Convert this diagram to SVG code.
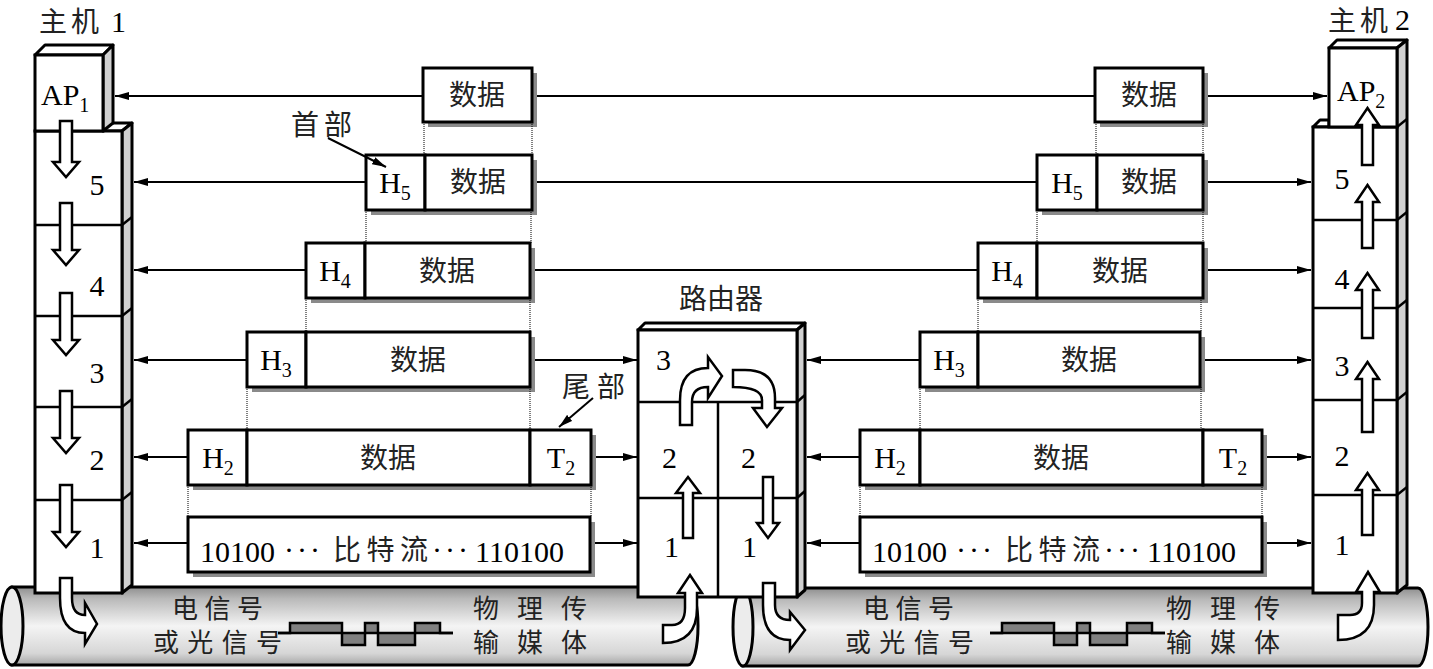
<svg xmlns="http://www.w3.org/2000/svg" width="1433" height="669" viewBox="0 0 1433 669">
<defs>
<linearGradient id="cg" x1="0" y1="0" x2="0" y2="1">
<stop offset="0" stop-color="#8f8f8f"/>
<stop offset="0.15" stop-color="#b9b9b9"/>
<stop offset="0.5" stop-color="#f4f4f4"/>
<stop offset="0.85" stop-color="#d6d6d6"/>
<stop offset="1" stop-color="#a6a6a6"/>
</linearGradient>
<marker id="ah" viewBox="0 0 14 8" refX="14" refY="4" markerWidth="14" markerHeight="8" markerUnits="userSpaceOnUse" orient="auto"><path d="M0,0 L14,4 L0,8 z" fill="#000"/></marker>
<style>
.box{fill:#fff;stroke:#000;stroke-width:3}
.sh{fill:#8a8a8a}
.side{fill:#d0d0d0;stroke:#000;stroke-width:3;stroke-linejoin:round}
.top{fill:#fff;stroke:#000;stroke-width:3;stroke-linejoin:round}
.dv{stroke:#000;stroke-width:2.5}
.ha{fill:#fff;stroke:#000;stroke-width:2.5;stroke-linejoin:miter}
.cn{stroke:#000;stroke-width:2;fill:none;marker-end:url(#ah)}
.ln{stroke:#000;stroke-width:2;fill:none}
.th{stroke:#000;stroke-width:1;stroke-dasharray:1 1;fill:none}
.cab{fill:url(#cg);stroke:#000;stroke-width:3}
.cap{fill:#ececec;stroke:#000;stroke-width:3}
.wv{fill:none;stroke:#000;stroke-width:2.5}
.wf{fill:#808080}
.lat{font-family:"Liberation Serif","Times New Roman",serif;font-size:30px;fill:#000}
.cjk{font-family:"Noto Sans CJK SC","Noto Sans CJK JP",sans-serif;font-size:28px;fill:#222}
.cb{font-size:26px}
.mid{text-anchor:middle}
</style>
</defs>

<!-- cables -->
<g id="cable1">
<path class="cab" d="M12,587 L688,587 A10,39 0 0 1 688,665 L12,665 Z"/>
<ellipse class="cap" cx="12" cy="626" rx="11" ry="39"/>
<text class="cjk cb" x="172" y="618" textLength="91">电信号</text>
<text class="cjk cb" x="153" y="652" textLength="129">或光信号</text>
<rect class="wf" x="290" y="623" width="52" height="10"/>
<rect class="wf" x="342" y="633" width="23" height="12"/>
<rect class="wf" x="365" y="623" width="13" height="10"/>
<rect class="wf" x="378" y="633" width="37" height="12"/>
<rect class="wf" x="415" y="623" width="25" height="10"/>
<path class="wv" d="M278,633 L290,633 L290,623 L342,623 L342,645 L365,645 L365,623 L378,623 L378,645 L415,645 L415,623 L440,623 L440,633 L453,633"/>
<line class="wv" x1="278" y1="633" x2="453" y2="633"/>
<text class="cjk cb" x="473" y="618" textLength="114">物 理 传</text>
<text class="cjk cb" x="473" y="652" textLength="114">输 媒 体</text>
</g>
<g id="cable2">
<path class="cab" d="M743,588 L1418,588 A10,39 0 0 1 1418,666 L743,666 Z"/>
<ellipse class="cap" cx="743" cy="627" rx="10" ry="39"/>
<text class="cjk cb" x="863" y="618" textLength="91">电信号</text>
<text class="cjk cb" x="845" y="652" textLength="129">或光信号</text>
<g transform="translate(712,0)">
<rect class="wf" x="290" y="623" width="52" height="10"/>
<rect class="wf" x="342" y="633" width="23" height="12"/>
<rect class="wf" x="365" y="623" width="13" height="10"/>
<rect class="wf" x="378" y="633" width="37" height="12"/>
<rect class="wf" x="415" y="623" width="25" height="10"/>
<path class="wv" d="M278,633 L290,633 L290,623 L342,623 L342,645 L365,645 L365,623 L378,623 L378,645 L415,645 L415,623 L440,623 L440,633 L453,633"/>
<line class="wv" x1="278" y1="633" x2="453" y2="633"/>
</g>
<text class="cjk cb" x="1166" y="618" textLength="114">物 理 传</text>
<text class="cjk cb" x="1166" y="652" textLength="114">输 媒 体</text>
</g>

<!-- host 1 -->
<g id="host1">
<text class="cjk" x="39" y="32" textLength="60">主机</text>
<text class="lat" x="111" y="32">1</text>
<polygon class="top" points="103,131 110,123 132,123 122,131"/>
<polygon class="side" points="122,131 132,123 132,585 122,593"/>
<rect class="box" x="35" y="131" width="87" height="462"/>
<line class="dv" x1="35" y1="225" x2="122" y2="225"/><line class="dv" x1="122" y1="225" x2="132" y2="217"/>
<line class="dv" x1="35" y1="316" x2="122" y2="316"/><line class="dv" x1="122" y1="316" x2="132" y2="308"/>
<line class="dv" x1="35" y1="407" x2="122" y2="407"/><line class="dv" x1="122" y1="407" x2="132" y2="399"/>
<line class="dv" x1="35" y1="500" x2="122" y2="500"/><line class="dv" x1="122" y1="500" x2="132" y2="492"/>
<polygon class="top" points="35,55 45,45 113,45 103,55"/>
<polygon class="side" points="103,55 113,45 113,123 103,131"/>
<rect class="box" x="35" y="55" width="68" height="76"/>
<text class="lat" x="41" y="105">AP<tspan font-size="20" dy="7">1</tspan></text>
<text class="lat mid" x="97" y="195">5</text>
<text class="lat mid" x="97" y="296">4</text>
<text class="lat mid" x="97" y="383">3</text>
<text class="lat mid" x="97" y="470">2</text>
<text class="lat mid" x="97" y="558">1</text>
<polygon class="ha" points="60,121 72,121 72,162 79,162 66,177 53,162 60,162"/>
<polygon class="ha" points="60,203 72,203 72,250 79,250 66,265 53,250 60,250"/>
<polygon class="ha" points="60,293 72,293 72,340 79,340 66,355 53,340 60,340"/>
<polygon class="ha" points="60,391 72,391 72,438 79,438 66,453 53,438 60,438"/>
<polygon class="ha" points="60,485 72,485 72,532 79,532 66,547 53,532 60,532"/>
<path class="ha" d="M60,578 L72,578 L72,598 Q72,615 85,615 L85,603 L97,624 L85,644 L85,633 Q60,633 60,598 Z"/>
</g>

<!-- router -->
<g id="router">
<text class="cjk" x="679" y="309" font-size="31">路由器</text>
<polygon class="top" points="638,330 645,323 805,323 797,330"/>
<polygon class="side" points="797,330 805,323 805,590 797,597"/>
<rect class="box" x="638" y="330" width="159" height="267"/>
<line class="dv" x1="638" y1="402" x2="797" y2="402"/><line class="dv" x1="797" y1="402" x2="805" y2="395"/>
<line class="dv" x1="638" y1="498" x2="797" y2="498"/><line class="dv" x1="797" y1="498" x2="805" y2="491"/>
<line class="dv" x1="718" y1="402" x2="718" y2="597"/>
<text class="lat" x="656" y="370">3</text>
<text class="lat" x="662" y="468">2</text>
<text class="lat" x="741" y="468">2</text>
<text class="lat" x="664" y="557">1</text>
<text class="lat" x="742" y="557">1</text>
<path class="ha" d="M680,425 L692,425 L692,402 Q692,387 708,387 L708,398 L722,376 L708,357 L708,368 Q680,368 680,400 Z"/>
<path class="ha" d="M733,370 L733,387 Q762,387 762,400 L762,408 L753,408 L767,427 L782,408 L775,408 L775,398 Q775,370 745,370 Z"/>
<polygon class="ha" points="683,538 693,538 693,493 700,493 688,477 676,493 683,493"/>
<polygon class="ha" points="763,477 773,477 773,523 779,523 768,538 757,523 763,523"/>
<path class="ha" d="M663,625 L663,643 Q697,643 697,608 L697,593 L702,593 L690,575 L678,593 L685,593 L685,608 Q685,625 672,625 Z"/>
<path class="ha" d="M763,583 L775,583 L775,605 Q775,620 790,620 L790,612 L805,630 L790,650 L790,640 Q763,640 763,605 Z"/>
</g>

<!-- host 2 -->
<g id="host2">
<text class="cjk" x="1328" y="31" font-size="26" textLength="60">主机</text>
<text class="lat" x="1395" y="30">2</text>
<polygon class="top" points="1313,127 1320,120 1329,120 1329,127"/>
<polygon class="top" points="1329,48 1337,40 1407,40 1397,48"/>
<polygon class="side" points="1397,48 1407,40 1407,585 1397,593"/>
<rect class="box" x="1313" y="127" width="84" height="466"/>
<rect class="box" x="1329" y="48" width="68" height="79"/>
<line class="dv" x1="1397" y1="127" x2="1407" y2="119"/>
<line class="dv" x1="1313" y1="220" x2="1397" y2="220"/><line class="dv" x1="1397" y1="220" x2="1407" y2="212"/>
<line class="dv" x1="1313" y1="308" x2="1397" y2="308"/><line class="dv" x1="1397" y1="308" x2="1407" y2="300"/>
<line class="dv" x1="1313" y1="400" x2="1397" y2="400"/><line class="dv" x1="1397" y1="400" x2="1407" y2="392"/>
<line class="dv" x1="1313" y1="495" x2="1397" y2="495"/><line class="dv" x1="1397" y1="495" x2="1407" y2="487"/>
<text class="lat" x="1337" y="101">AP<tspan font-size="20" dy="7">2</tspan></text>
<text class="lat mid" x="1342" y="189">5</text>
<text class="lat mid" x="1342" y="289">4</text>
<text class="lat mid" x="1342" y="376">3</text>
<text class="lat mid" x="1342" y="466">2</text>
<text class="lat mid" x="1342" y="555">1</text>
<polygon class="ha" points="1362,165 1373,165 1373,125 1379,125 1367.5,108 1356,125 1362,125"/>
<polygon class="ha" points="1362,248 1373,248 1373,202 1379,202 1367.5,185 1356,202 1362,202"/>
<polygon class="ha" points="1362,338 1373,338 1373,290 1379,290 1367.5,273 1356,290 1362,290"/>
<polygon class="ha" points="1362,432 1373,432 1373,379 1379,379 1367.5,362 1356,379 1362,379"/>
<polygon class="ha" points="1362,535 1373,535 1373,490 1379,490 1367.5,473 1356,490 1362,490"/>
<path class="ha" d="M1338,615 L1338,640 Q1374,640 1374,605 L1374,592 L1380,592 L1368,572 L1356,592 L1362,592 L1362,603 Q1362,615 1350,615 Z"/>
</g>

<!-- PDUs left -->
<g id="pdu-ap-left">
<rect class="sh" x="428" y="73" width="109" height="54"/>
<rect class="box" x="423" y="68" width="109" height="54"/>
<text class="cjk mid" x="477" y="105" font-size="30">数据</text>
</g>
<g id="pdu-5-left">
<rect class="sh" x="371" y="160" width="166" height="55"/>
<rect class="box" x="366" y="155" width="59" height="55"/>
<rect class="box" x="425" y="155" width="107" height="55"/>
<text class="lat mid" x="395" y="193">H<tspan font-size="20" dy="7">5</tspan></text>
<text class="cjk mid" x="478" y="192" font-size="30">数据</text>
</g>
<g id="pdu-4-left">
<rect class="sh" x="311" y="248" width="224" height="55"/>
<rect class="box" x="306" y="243" width="59" height="55"/>
<rect class="box" x="365" y="243" width="165" height="55"/>
<text class="lat mid" x="335" y="281">H<tspan font-size="20" dy="7">4</tspan></text>
<text class="cjk mid" x="447" y="281" font-size="30">数据</text>
</g>
<g id="pdu-3-left">
<rect class="sh" x="252" y="337" width="283" height="55"/>
<rect class="box" x="247" y="332" width="59" height="55"/>
<rect class="box" x="306" y="332" width="224" height="55"/>
<text class="lat mid" x="276" y="370">H<tspan font-size="20" dy="7">3</tspan></text>
<text class="cjk mid" x="418" y="370" font-size="30">数据</text>
</g>
<g id="pdu-2-left">
<rect class="sh" x="193" y="435" width="403" height="55"/>
<rect class="box" x="188" y="430" width="59" height="55"/>
<rect class="box" x="247" y="430" width="283" height="55"/>
<rect class="box" x="530" y="430" width="61" height="55"/>
<text class="lat mid" x="218" y="468">H<tspan font-size="20" dy="7">2</tspan></text>
<text class="cjk mid" x="388" y="468" font-size="30">数据</text>
<text class="lat mid" x="561" y="468">T<tspan font-size="20" dy="7">2</tspan></text>
</g>
<g id="pdu-1-left">
<rect class="sh" x="193" y="522" width="402" height="55"/>
<rect class="box" x="188" y="517" width="402" height="55"/>
<text class="lat" x="200" y="562" font-size="31">10100</text>
<text class="lat" x="284" y="560" font-size="31" letter-spacing="3">···</text>
<text class="cjk" x="333" y="560" font-size="30" textLength="95">比特流</text>
<text class="lat" x="432" y="560" font-size="31" letter-spacing="3">···</text>
<text class="lat" x="475" y="562" font-size="31">110100</text>
</g>

<!-- PDUs right -->
<g id="pdu-ap-right">
<rect class="sh" x="1100" y="73" width="108" height="54"/>
<rect class="box" x="1095" y="68" width="108" height="54"/>
<text class="cjk mid" x="1149" y="105" font-size="30">数据</text>
</g>
<g id="pdu-5-right">
<rect class="sh" x="1042" y="160" width="166" height="55"/>
<rect class="box" x="1037" y="155" width="60" height="55"/>
<rect class="box" x="1097" y="155" width="106" height="55"/>
<text class="lat mid" x="1067" y="193">H<tspan font-size="20" dy="7">5</tspan></text>
<text class="cjk mid" x="1149" y="192" font-size="30">数据</text>
</g>
<g id="pdu-4-right">
<rect class="sh" x="983" y="248" width="225" height="55"/>
<rect class="box" x="978" y="243" width="59" height="55"/>
<rect class="box" x="1037" y="243" width="166" height="55"/>
<text class="lat mid" x="1007" y="281">H<tspan font-size="20" dy="7">4</tspan></text>
<text class="cjk mid" x="1120" y="281" font-size="30">数据</text>
</g>
<g id="pdu-3-right">
<rect class="sh" x="925" y="337" width="280" height="55"/>
<rect class="box" x="920" y="332" width="58" height="55"/>
<rect class="box" x="978" y="332" width="222" height="55"/>
<text class="lat mid" x="949" y="370">H<tspan font-size="20" dy="7">3</tspan></text>
<text class="cjk mid" x="1089" y="370" font-size="30">数据</text>
</g>
<g id="pdu-2-right">
<rect class="sh" x="865" y="435" width="402" height="55"/>
<rect class="box" x="860" y="430" width="60" height="55"/>
<rect class="box" x="920" y="430" width="283" height="55"/>
<rect class="box" x="1203" y="430" width="59" height="55"/>
<text class="lat mid" x="890" y="468">H<tspan font-size="20" dy="7">2</tspan></text>
<text class="cjk mid" x="1061" y="468" font-size="30">数据</text>
<text class="lat mid" x="1233" y="468">T<tspan font-size="20" dy="7">2</tspan></text>
</g>
<g id="pdu-1-right">
<rect class="sh" x="865" y="522" width="402" height="55"/>
<rect class="box" x="860" y="517" width="402" height="55"/>
<text class="lat" x="872" y="562" font-size="31">10100</text>
<text class="lat" x="956" y="560" font-size="31" letter-spacing="3">···</text>
<text class="cjk" x="1005" y="560" font-size="30" textLength="95">比特流</text>
<text class="lat" x="1104" y="560" font-size="31" letter-spacing="3">···</text>
<text class="lat" x="1147" y="562" font-size="31">110100</text>
</g>

<g id="labels">
<text class="cjk" x="291" y="135" textLength="61">首部</text>
<text class="cjk" x="562" y="397" textLength="63">尾部</text>
</g>

<!-- connectors -->
<g id="connectors">
<path class="cn" d="M423,96 L115,96"/>
<path class="ln" d="M537,96 L1095,96"/>
<path class="cn" d="M1208,96 L1327,96"/>
<path class="cn" d="M366,182 L134,182"/>
<path class="ln" d="M537,182 L1037,182"/>
<path class="cn" d="M1208,182 L1311,182"/>
<path class="cn" d="M306,270 L134,270"/>
<path class="ln" d="M535,270 L978,270"/>
<path class="cn" d="M1208,270 L1311,270"/>
<path class="cn" d="M247,360 L134,360"/>
<path class="cn" d="M535,360 L637,360"/>
<path class="cn" d="M920,360 L807,360"/>
<path class="cn" d="M1205,360 L1311,360"/>
<path class="cn" d="M188,457 L134,457"/>
<path class="cn" d="M596,457 L637,457"/>
<path class="cn" d="M860,457 L807,457"/>
<path class="cn" d="M1267,457 L1311,457"/>
<path class="cn" d="M188,543 L134,543"/>
<path class="cn" d="M595,543 L637,543"/>
<path class="cn" d="M860,543 L807,543"/>
<path class="cn" d="M1267,543 L1311,543"/>
<path class="th" d="M424,122 V155 M532,122 V155 M366,210 V243 M531,210 V243 M306,298 V332 M530,298 V332 M247,387 V430 M530,387 V430 M188,485 V517 M591,485 V517"/>
<path class="th" d="M1096,122 V155 M1203,122 V155 M1037,210 V243 M1203,210 V243 M978,298 V332 M1201,298 V332 M920,387 V430 M1201,387 V430 M860,485 V517 M1262,485 V517"/>
<path class="cn" d="M328,138 L386,167"/>
<path class="cn" d="M593,398 L559,427"/>
</g>
</svg>
